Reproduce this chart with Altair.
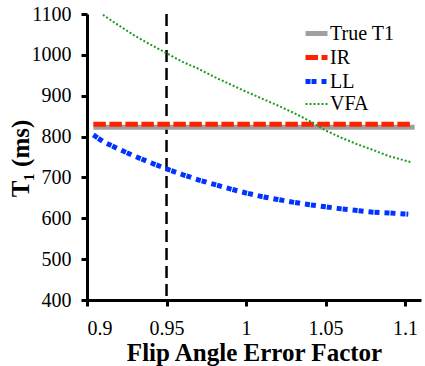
import altair as alt
import pandas as pd

series_names = ["True T1", "IR", "LL", "VFA"]
series_colors = ["#a0a0a0", "#ff2200", "#0033ff", "#1f9a1f"]
series_dash = [[1, 0], [12.5, 3.5], [5, 1, 5, 5], [2, 2]]
series_width = [5, 5, 5, 2]

true_x = [0.904, 1.106]
true_y = [823, 823]
ir_x = [0.904, 1.103]
ir_y = [830, 830]
ll_x = [0.904, 0.91, 0.92, 0.93, 0.94, 0.95, 0.96, 0.97, 0.98, 0.99, 1.00,
        1.01, 1.02, 1.03, 1.04, 1.05, 1.06, 1.07, 1.08, 1.09, 1.102]
ll_y = [804, 788, 769, 752, 736, 721, 707, 694, 683, 672, 662,
        653, 646, 639, 633, 628, 623, 619, 615, 613, 610]
vfa_x = [0.91, 0.92, 0.93, 0.94, 0.95, 0.96, 0.97, 0.98, 0.99, 1.00,
         1.01, 1.02, 1.03, 1.04, 1.05, 1.06, 1.07, 1.08, 1.09, 1.104]
vfa_y = [1098, 1072, 1047, 1025, 1004, 983, 966, 946, 928, 910,
         893, 876, 858, 838, 815, 797, 781, 767, 752, 737]
marker_x = [0.95]
x_ticks = [0.9, 0.95, 1.0, 1.05, 1.1]
y_ticks = [400, 500, 600, 700, 800, 900, 1000, 1100]

rows = []
for name, xs, ys in [("True T1", true_x, true_y), ("IR", ir_x, ir_y),
                     ("LL", ll_x, ll_y), ("VFA", vfa_x, vfa_y)]:
    for i, (a, b) in enumerate(zip(xs, ys)):
        rows.append({"series": name, "x": a, "y": b, "i": i})
df = pd.DataFrame(rows)

FONT = "Liberation Serif"
common = dict(
    grid=False, domainColor="black", domainWidth=3, tickColor="black", tickWidth=3,
    tickSize=6, labelFontSize=20, labelColor="black",
    titleFont=FONT, titleFontSize=25, titleFontWeight="bold", titleColor="black",
)

xscale = alt.Scale(domain=[0.9, 1.11], nice=False, zero=False)
yscale = alt.Scale(domain=[400, 1100], nice=False, zero=False)

xaxis = alt.Axis(values=x_ticks, format="~g", title="Flip Angle Error Factor",
                 titleX=167, titleY=60, titleBaseline="alphabetic",
                 labelPadding=12, labelFont=FONT, labelFontWeight=500, **common)
yaxis = alt.Axis(values=y_ticks, format="d", title="T₁ (ms)", titleX=-67, titleY=144,
                 titleBaseline="middle", titleAngle=270, titleAlign="center",
                 labelPadding=10, labelFont="Times New Roman", labelFontWeight=400, **common)

base = alt.Chart(df).mark_line(strokeCap="butt").encode(
    x=alt.X("x:Q", scale=xscale, axis=xaxis),
    y=alt.Y("y:Q", scale=yscale, axis=yaxis),
    color=alt.Color("series:N", scale=alt.Scale(domain=series_names, range=series_colors),
                    legend=alt.Legend(title=None, orient="none", legendX=216, legendY=6,
                                      labelFont=FONT, labelFontWeight=500)),
    strokeDash=alt.StrokeDash("series:N", scale=alt.Scale(domain=series_names, range=series_dash)),
    strokeWidth=alt.StrokeWidth("series:N", scale=alt.Scale(type="ordinal", domain=series_names,
                                                            range=series_width)),
    order="i:Q",
)

vline = alt.Chart(pd.DataFrame({"x": marker_x})).mark_rule(
    color="black", strokeWidth=2.5, strokeDash=[12, 6]
).encode(x=alt.X("x:Q", scale=xscale))

chart = alt.layer(
    vline,
    base.transform_filter(alt.datum.series == "True T1"),
    base.transform_filter(alt.datum.series != "True T1"),
).properties(
    width=334, height=286,
    autosize=alt.AutoSizeParams(type="none"),
    padding={"left": 87, "top": 14, "right": 4, "bottom": 66},
).configure_view(stroke=None).configure_legend(
    symbolType="stroke", symbolSize=484, labelFontSize=20,
    labelColor="black", rowPadding=0, labelOffset=0, padding=0,
)

chart.save("out.html", embed_options={"renderer": "svg", "actions": False})
